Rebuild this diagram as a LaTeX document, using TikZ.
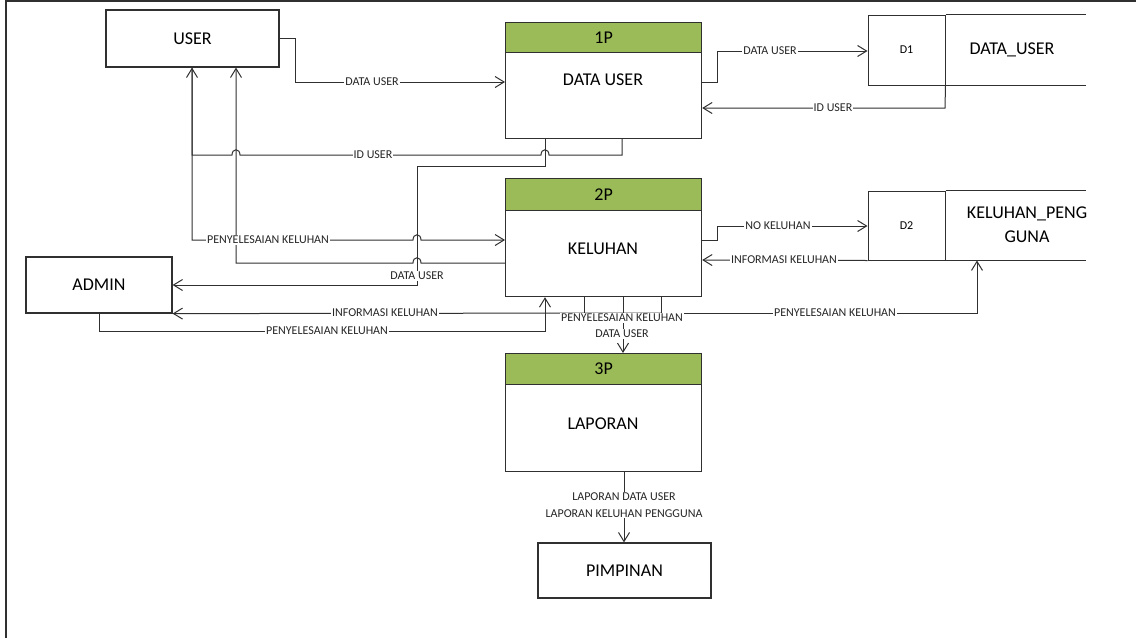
\documentclass[tikz,border=0pt]{standalone}
\usepackage{fontspec}
\setmainfont{Carlito}
\usetikzlibrary{arrows.meta}
\definecolor{hdrgreen}{HTML}{9BBB59}
\definecolor{ink}{HTML}{303030}
\begin{document}
\begin{tikzpicture}[x=1pt,y=-1pt,
  ent/.style={draw=ink,line width=1.2pt,fill=white,inner sep=0pt,
    font=\fontsize{18}{20}\selectfont},
  hdr/.style={draw=ink,line width=1.2pt,fill=hdrgreen,anchor=north west,
    minimum width=196pt,inner sep=0pt,font=\fontsize{18}{20}\selectfont},
  body/.style={draw=ink,line width=1.2pt,fill=white,anchor=north west,
    minimum width=196pt,inner sep=0pt},
  big/.style={inner sep=0pt,font=\fontsize{18}{20}\selectfont},
  store/.style={draw=ink,line width=1pt,minimum width=77pt,inner sep=0pt,
    font=\fontsize{12}{14}\selectfont},
  flow/.style={draw=ink,line width=1pt},
  arr/.style={flow,-{Straight Barb[length=9pt,width=11pt]}},
  lbl/.style={fill=white,inner sep=1pt,text=black!85,font=\fontsize{12}{17}\selectfont}
]
\useasboundingbox (0,0) rectangle (1136,638);
% outer frame (top and left edges)
\draw[ink,line width=1.5pt] (6,638) -- (6,1) -- (1136,1);

% external entities
\node[ent,minimum width=173pt,minimum height=57pt] (user) at (192.5,38.5) {USER};
\node[ent,minimum width=146pt,minimum height=56pt] (admin) at (99,285) {ADMIN};
\node[ent,minimum width=173pt,minimum height=55pt] (pim) at (624.5,570.5) {PIMPINAN};

% processes
\node[hdr,minimum height=30pt] (p1h) at (505,22) {1P};
\node[body,minimum height=86pt] (p1b) at (505,52) {};
\node[big] (p1t) at (603,80) {DATA USER};

\node[hdr,minimum height=32pt] (p2h) at (505,178) {2P};
\node[body,minimum height=86pt] (p2b) at (505,210) {};
\node[big] (p2t) at (603,249) {KELUHAN};

\node[hdr,minimum height=31pt] (p3h) at (505,353) {3P};
\node[body,minimum height=87pt] (p3b) at (505,384) {};
\node[big] (p3t) at (603,424) {LAPORAN};

% data stores
\node[store,minimum height=70pt] (d1) at (906.5,50) {D1};
\draw[ink,line width=1pt] (d1.north east) -- ++(140,0) (d1.south east) -- ++(140,0);
\node[big] (d1t) at (1012,50) {DATA\_USER};

\node[store,minimum height=69pt] (d2) at (906.5,225.5) {D2};
\draw[ink,line width=1pt] (d2.north east) -- ++(140,0) (d2.south east) -- ++(140,0);
\node[big,align=center,font=\fontsize{18}{24}\selectfont] (d2t) at (1027,225) {KELUHAN\_PENG\\GUNA};

% USER -> 1P
\draw[arr] (user.east) -| (295,82) -- (p1b.west |- 0,82);
% 1P -> D1
\draw[arr] (p1b.east |- 0,82) -- (717,82) -- (717,51) -- (d1.west |- 0,51);
% D1 -> 1P
\draw[arr] (d1.south east) -- (945,108) -- (p1b.east |- 0,108);
% 1P -> USER (ID USER), hopping over two lines
\draw[arr] (622,0 |- p1b.south) -- (622,155) -- (549,155)
  .. controls (549,148) and (541,148) .. (541,155) -- (240,155)
  .. controls (240,148) and (232,148) .. (232,155) -- (192,155)
  -- (user.south -| 192,0);
% 1P -> ADMIN (DATA USER)
\draw[arr] (545,0 |- p1b.south) -- (545,166) -- (417,166) -- (417,285)
  -- (admin.east |- 0,285);
% USER -> 2P (PENYELESAIAN KELUHAN)
\draw[arr] (user.south -| 192,0) -- (192,240) -- (413,240)
  .. controls (413,233) and (421,233) .. (421,240) -- (p2b.west |- 0,240);
% 2P -> USER
\draw[arr] (p2b.west |- 0,263) -- (421,263)
  .. controls (421,256) and (413,256) .. (413,263) -- (236,263)
  -- (user.south -| 236,0);
% 2P -> D2
\draw[arr] (p2b.east |- 0,240) -- (717,240) -- (717,226) -- (d2.west |- 0,226);
% D2 -> 2P
\draw[arr] (d2.south west) -- (p2b.east |- 0,260);
% 2P -> D2 (PENYELESAIAN KELUHAN)
\draw[arr] (661,0 |- p2b.south) -- (661,313) -- (977,313) -- (977,0 |- d2.south);
% 2P -> ADMIN (INFORMASI KELUHAN)
\draw[arr] (661,313) -- (admin.south east);
% ADMIN -> 2P
\draw[arr] (admin.south) -- (99,331) -- (545,331) -- (545,0 |- p2b.south);
% 2P -> 3P
\draw[flow] (584,0 |- p2b.south) -- (584,317) -- (623,317);
\draw[arr] (623,0 |- p2b.south) -- (623,0 |- p3h.north);
% 3P -> PIMPINAN
\draw[arr] (624,0 |- p3b.south) -- (624,0 |- pim.north);

% flow labels
\node[lbl] (l1) at (372,82) {DATA USER};
\node[lbl] (l2) at (373,155) {ID USER};
\node[lbl] (l3) at (268,240) {PENYELESAIAN KELUHAN};
\node[lbl] (l4) at (417,276) {DATA USER};
\node[lbl] (l5) at (385,313) {INFORMASI KELUHAN};
\node[lbl] (l6) at (327,331) {PENYELESAIAN KELUHAN};
\node[lbl] (l7) at (770,51) {DATA USER};
\node[lbl] (l8) at (833,108) {ID USER};
\node[lbl] (l9) at (778,226) {NO KELUHAN};
\node[lbl] (l10) at (784,260) {INFORMASI KELUHAN};
\node[lbl] (l11) at (835,313) {PENYELESAIAN KELUHAN};
\node[lbl] (l12) at (622,318) {PENYELESAIAN KELUHAN};
\node[lbl] (l13) at (622,334) {DATA USER};
\node[lbl,align=center] (l14) at (624,505) {LAPORAN DATA USER\\LAPORAN KELUHAN PENGGUNA};
\end{tikzpicture}
\end{document}
